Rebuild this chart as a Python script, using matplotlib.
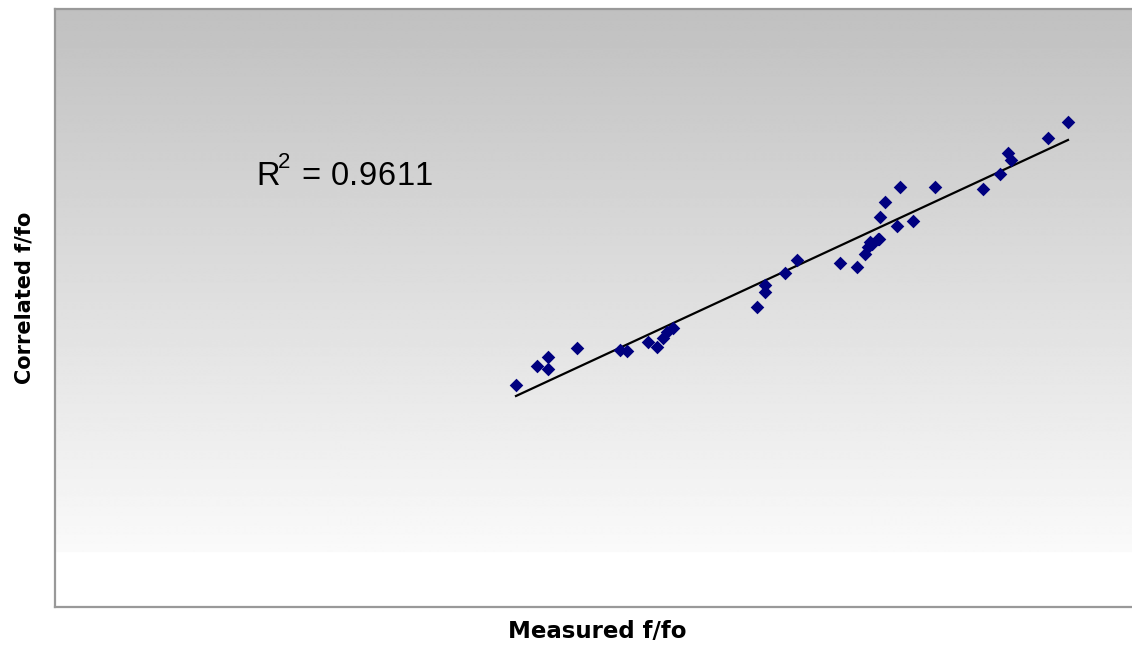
import numpy as np
import matplotlib
matplotlib.use("Agg")
import matplotlib.pyplot as plt

# Data (arbitrary units)
measured = [0.461, 0.482, 0.493, 0.493, 0.522, 0.565, 0.572, 0.593, 0.602, 0.608,
            0.612, 0.618, 0.702, 0.710, 0.710, 0.730, 0.742, 0.785, 0.802, 0.810,
            0.813, 0.815, 0.817, 0.823, 0.825, 0.824, 0.830, 0.842, 0.845, 0.858,
            0.880, 0.928, 0.945, 0.953, 0.956, 0.993, 1.013]
correlated = [0.222, 0.241, 0.250, 0.238, 0.259, 0.257, 0.256, 0.265, 0.260, 0.269,
              0.275, 0.279, 0.300, 0.315, 0.322, 0.334, 0.347, 0.344, 0.340, 0.353,
              0.360, 0.365, 0.363, 0.368, 0.390, 0.368, 0.405, 0.381, 0.420, 0.386,
              0.420, 0.418, 0.433, 0.454, 0.447, 0.469, 0.485]
trend_slope = 0.4638
trend_intercept = -0.0028
trend_x = [0.461, 1.013]
r2_value = "0.9611"

plt.rcParams['font.family'] = ['Liberation Sans', 'DejaVu Sans']

W, H = 1132, 647
fig = plt.figure(figsize=(W / 100, H / 100), dpi=100)
left = 55 / W
bottom = (H - 607) / H
top = (H - 9) / H
ax = fig.add_axes([left, bottom, 1.01 - left, top - bottom])

xlim = (0.0, (1.01 * W - 55) / 1000)
ylim = (0.0, 0.598)
ax.set_xlim(*xlim)
ax.set_ylim(*ylim)

# gradient background
n = 600
frac = np.linspace(0, 1, n)[:, None]  # 0 at top
vals = 192 + (250 - 192) * np.clip(frac / (544 / 598), 0, 1)
vals[frac[:, 0] > 544 / 598] = 255
img = np.repeat(vals, 2, axis=1) / 255.0
ax.imshow(img, cmap='gray', vmin=0, vmax=1, extent=[xlim[0], xlim[1], ylim[0], ylim[1]],
          aspect='auto', origin='upper', zorder=0, interpolation='bilinear')

tx = np.array(trend_x)
ax.plot(tx, trend_slope * tx + trend_intercept, color='black', lw=1.6, zorder=2)
ax.scatter(measured, correlated, marker='D', s=48, color='#000080', zorder=3, linewidths=0)

ax.set_xticks([])
ax.set_yticks([])
for s in ['left', 'bottom', 'top']:
    ax.spines[s].set_color('#999999')
    ax.spines[s].set_linewidth(1.6)
ax.spines['right'].set_visible(False)

# R^2 annotation, drawn glyph-run by glyph-run to avoid tight kerning
fig.text(256 / W, (H - 185) / H, "R", fontsize=23.5, va='baseline', ha='left')
fig.text(278 / W, (H - 168) / H, "2", fontsize=16, va='baseline', ha='left')
renderer = fig.canvas.get_renderer()
xpos = 302.0
for chunk in ["= ", *list(r2_value)]:
    t = fig.text(xpos / W, (H - 185) / H, chunk, fontsize=23.5, va='baseline', ha='left')
    bb = t.get_window_extent(renderer=renderer)
    xpos += bb.width + 0.5

fig.text(597 / W, (H - 631) / H, "Measured f/fo", fontsize=16.5, fontweight='bold',
         ha='center', va='center', family=['DejaVu Sans'])
fig.text(25 / W, (H - 298) / H, "Correlated f/fo", fontsize=15, fontweight='bold',
         ha='center', va='center', rotation=90, family=['DejaVu Sans'])

fig.savefig("out.png", dpi=100)
